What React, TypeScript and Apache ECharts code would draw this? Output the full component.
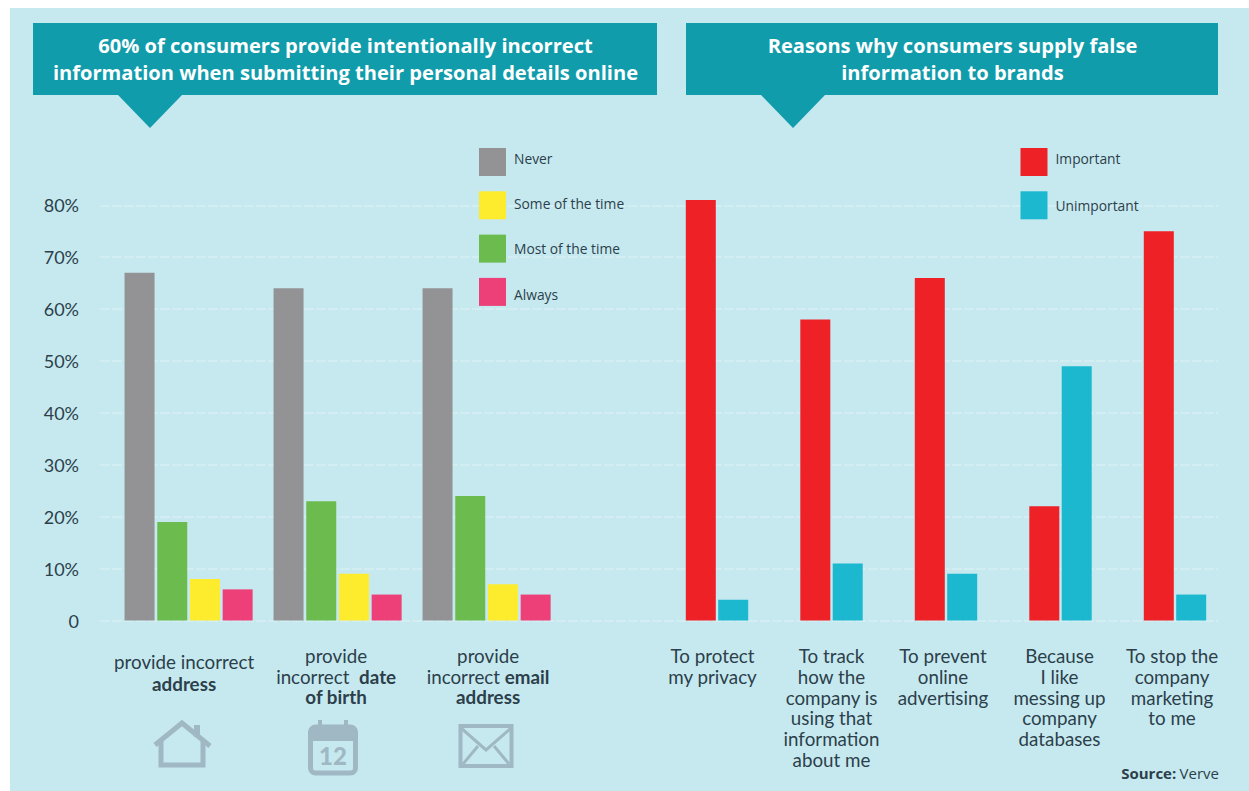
import React, { useEffect, useRef } from "react";
import * as echarts from "echarts";

const FONT = "Open Sans";
const LABEL_FONT = "Lato";
const INK = "#2c3f4a";
const ICON = "#9fb8c3";
const TEAL = "#109cab";
const PANEL = "#c6e9f0";

// Share of consumers giving incorrect details, by detail type and frequency.
const detailCategories = ["address", "date of birth", "email address"];
const neverValues = [67, 64, 64];
const mostValues = [19, 23, 24];
const someValues = [8, 9, 7];
const alwaysValues = [6, 5, 5];

// Reasons for giving false information.
const reasonCategories = [
  "To protect\nmy privacy",
  "To track\nhow the\ncompany is\nusing that\ninformation\nabout me",
  "To prevent\nonline\nadvertising",
  "Because\nI like\nmessing up\ncompany\ndatabases",
  "To stop the\ncompany\nmarketing\nto me",
];
const importantValues = [81, 58, 66, 22, 75];
const unimportantValues = [4, 11, 9, 49, 5];

const detailLabels = [
  "{r2|provide incorrect}\n{b2|address}",
  "{r|provide}\n{r|incorrect  }{b|date}\n{b|of birth}",
  "{r|provide}\n{r|incorrect }{b|email}\n{b|address}",
];
const leftLegend = ["Never", "Some of the time", "Most of the time", "Always"];
const rightLegend = ["Important", "Unimportant"];
const headings = [
  "60% of consumers provide intentionally incorrect\ninformation when submitting their personal details online",
  "Reasons why consumers supply false\ninformation to brands",
];

// Vertical nudge of each legend name against its swatch, as a spacer row style.
const legendNudge: Record<string, string> = {
  Never: "{t|Never}\n{s|}",
  "Some of the time": "{t|Some of the time}\n{h|}",
  "Most of the time": "{t|Most of the time}",
  Always: "{a|}\n{t|Always}",
  Important: "{t|Important}\n{s|}",
  Unimportant: "{t|Unimportant}",
};

const PLOT_TOP = 153.4;
const PLOT_HEIGHT = 467.1;

function hiddenY(gridIndex: number) {
  return { type: "value", gridIndex, min: 0, max: 90, interval: 10, show: false };
}

function barSeries(name: string, data: number[], color: string, axis: number, gap: string) {
  return {
    type: "bar",
    name,
    data,
    xAxisIndex: axis,
    yAxisIndex: axis,
    barWidth: 30,
    barGap: gap,
    itemStyle: { color },
  };
}

function legend(names: string[], left: number) {
  return {
    orient: "vertical",
    left,
    top: 143,
    data: names,
    itemWidth: 27,
    itemHeight: 28,
    itemGap: 15.3,
    selectedMode: false,
    icon: "rect",
    formatter: (name: string) => legendNudge[name],
    textStyle: {
      padding: [0, 0, 0, 3],
      rich: {
        t: { fontFamily: FONT, fontSize: 13.8, lineHeight: 15, color: INK },
        s: { fontSize: 6, lineHeight: 8 },
        h: { fontSize: 4, lineHeight: 4 },
        a: { fontSize: 6, lineHeight: 6 },
      },
    },
  };
}

function banner(x: number, width: number, notch: number) {
  return [
    { type: "rect", shape: { x, y: 23, width, height: 72 }, style: { fill: TEAL } },
    {
      type: "polygon",
      shape: {
        points: [
          [notch - 32, 95],
          [notch + 32, 95],
          [notch, 128],
        ],
      },
      style: { fill: TEAL },
    },
  ];
}

function iconStroke(extra: object = {}) {
  return { stroke: ICON, lineWidth: 5, fill: "none", ...extra };
}

const houseIcon = [
  {
    type: "polyline",
    shape: {
      points: [
        [155, 745],
        [182, 723],
        [210, 746],
      ],
    },
    style: iconStroke(),
  },
  {
    type: "polyline",
    shape: {
      points: [
        [161, 741],
        [161, 765],
        [203, 765],
        [203, 741],
      ],
    },
    style: iconStroke(),
  },
  { type: "rect", shape: { x: 194, y: 725, width: 6, height: 12 }, style: { fill: ICON } },
];

const calendarIcon = [
  {
    type: "rect",
    shape: { x: 310.5, y: 727, width: 45, height: 46, r: 5 },
    style: iconStroke(),
  },
  { type: "rect", shape: { x: 310.5, y: 727, width: 45, height: 14, r: [5, 5, 0, 0] }, style: { fill: ICON } },
  { type: "rect", shape: { x: 318, y: 720, width: 4, height: 11 }, style: { fill: ICON } },
  { type: "rect", shape: { x: 344, y: 720, width: 4, height: 11 }, style: { fill: ICON } },
  {
    type: "text",
    x: 333,
    y: 755,
    style: {
      text: "12",
      fill: ICON,
      fontFamily: LABEL_FONT,
      fontWeight: 900,
      fontSize: 24,
      align: "center",
      verticalAlign: "middle",
    },
  },
];

const envelopeIcon = [
  {
    type: "rect",
    shape: { x: 460.5, y: 726, width: 51, height: 40 },
    style: iconStroke({ lineWidth: 4 }),
  },
  {
    type: "polyline",
    shape: {
      points: [
        [461, 728],
        [486, 750],
        [511, 728],
      ],
    },
    style: iconStroke({ lineWidth: 3 }),
  },
  {
    type: "line",
    shape: { x1: 463, y1: 764, x2: 478, y2: 746 },
    style: iconStroke({ lineWidth: 3 }),
  },
  {
    type: "line",
    shape: { x1: 509, y1: 764, x2: 494, y2: 746 },
    style: iconStroke({ lineWidth: 3 }),
  },
];

// Category labels sit a little off their bar groups; padding on one side moves the label box.
const detailPadding = [
  [5, 9, 0, 0],
  [0, 3, 0, 0],
  [0, 0, 0, 3],
];
const reasonPadding = [
  [0, 9, 0, 0],
  [0, 0, 0, 0],
  [0, 6, 0, 0],
  [0, 2, 0, 0],
  [0, 6, 0, 0],
];

export default function App() {
  const ref = useRef<HTMLDivElement>(null);

  useEffect(() => {
    const chart = echarts.init(ref.current!, null, { renderer: "svg" });
    chart.setOption({
      animation: false,
      backgroundColor: "#ffffff",
      title: [
        { text: headings[0], left: 340.5, top: 27 },
        { text: headings[1], left: 947.5, top: 27 },
      ].map((t) => ({
        ...t,
        textAlign: "center",
        textStyle: {
          fontFamily: FONT,
          fontWeight: 700,
          fontSize: 20.1,
          lineHeight: 27,
          color: "#ffffff",
        },
      })),
      legend: [legend(leftLegend, 474), legend(rightLegend, 1015.5)],
      grid: [
        { left: 100, top: PLOT_TOP, width: 1118, height: PLOT_HEIGHT },
        { left: 114.1, top: PLOT_TOP, width: 447, height: PLOT_HEIGHT },
        { left: 659.75, top: PLOT_TOP, width: 572.5, height: PLOT_HEIGHT },
      ],
      xAxis: [
        { type: "value", gridIndex: 0, min: 0, max: 1, show: false },
        {
          type: "category",
          gridIndex: 1,
          data: detailCategories.map((value, i) => ({
            value,
            textStyle: { padding: detailPadding[i] },
          })),
          axisLine: { show: false },
          axisTick: { show: false },
          axisLabel: {
            margin: 25,
            interval: 0,
            formatter: (_: string, i: number) => detailLabels[i],
            rich: {
              r: { fontFamily: LABEL_FONT, fontSize: 18.8, lineHeight: 20.5, color: INK },
              b: { fontFamily: LABEL_FONT, fontSize: 18.8, fontWeight: 700, lineHeight: 20.5, color: INK },
              r2: { fontFamily: LABEL_FONT, fontSize: 18.8, lineHeight: 22, color: INK },
              b2: { fontFamily: LABEL_FONT, fontSize: 18.8, fontWeight: 700, lineHeight: 22, color: INK },
            },
          },
        },
        {
          type: "category",
          gridIndex: 2,
          data: reasonCategories.map((value, i) => ({
            value,
            textStyle: { padding: reasonPadding[i] },
          })),
          axisLine: { show: false },
          axisTick: { show: false },
          axisLabel: {
            margin: 25,
            interval: 0,
            fontFamily: LABEL_FONT,
            fontSize: 18.8,
            lineHeight: 20.7,
            color: INK,
          },
        },
      ],
      yAxis: [
        {
          type: "value",
          gridIndex: 0,
          min: 0,
          max: 90,
          interval: 10,
          axisLine: { show: false },
          axisTick: { show: false },
          axisLabel: {
            margin: 21,
            showMaxLabel: false,
            fontFamily: LABEL_FONT,
            fontSize: 18,
            color: INK,
            formatter: (v: number) => (v === 0 ? "0" : `${v}%`),
          },
          splitLine: {
            show: true,
            showMaxLine: false,
            lineStyle: { color: "#d6f0f4", width: 1.5, type: [10, 2] },
          },
        },
        hiddenY(1),
        hiddenY(2),
      ],
      series: [
        barSeries("Never", neverValues, "#939295", 1, "9%"),
        barSeries("Most of the time", mostValues, "#6cbb4f", 1, "9%"),
        barSeries("Some of the time", someValues, "#fdec2e", 1, "9%"),
        barSeries("Always", alwaysValues, "#ee4078", 1, "9%"),
        barSeries("Important", importantValues, "#ee2127", 2, "8%"),
        barSeries("Unimportant", unimportantValues, "#1bb8cf", 2, "8%"),
      ],
      graphic: [
        {
          type: "rect",
          z: -10,
          shape: { x: 10, y: 8, width: 1239, height: 783 },
          style: { fill: PANEL },
        },
        ...banner(33, 624, 150),
        ...banner(686, 532, 793),
        ...houseIcon,
        ...calendarIcon,
        ...envelopeIcon,
        {
          type: "text",
          x: 1219,
          y: 773,
          style: {
            text: "{b|Source:} {r|Verve}",
            align: "right",
            verticalAlign: "middle",
            rich: {
              b: { fontFamily: FONT, fontWeight: 700, fontSize: 15, fill: INK },
              r: { fontFamily: FONT, fontSize: 15, fill: INK },
            },
          },
        },
      ],
    });
    return () => chart.dispose();
  }, []);

  return (
    <div
      ref={ref}
      style={{ position: "absolute", left: 0, top: 0, width: 1249, height: 791 }}
    />
  );
}
